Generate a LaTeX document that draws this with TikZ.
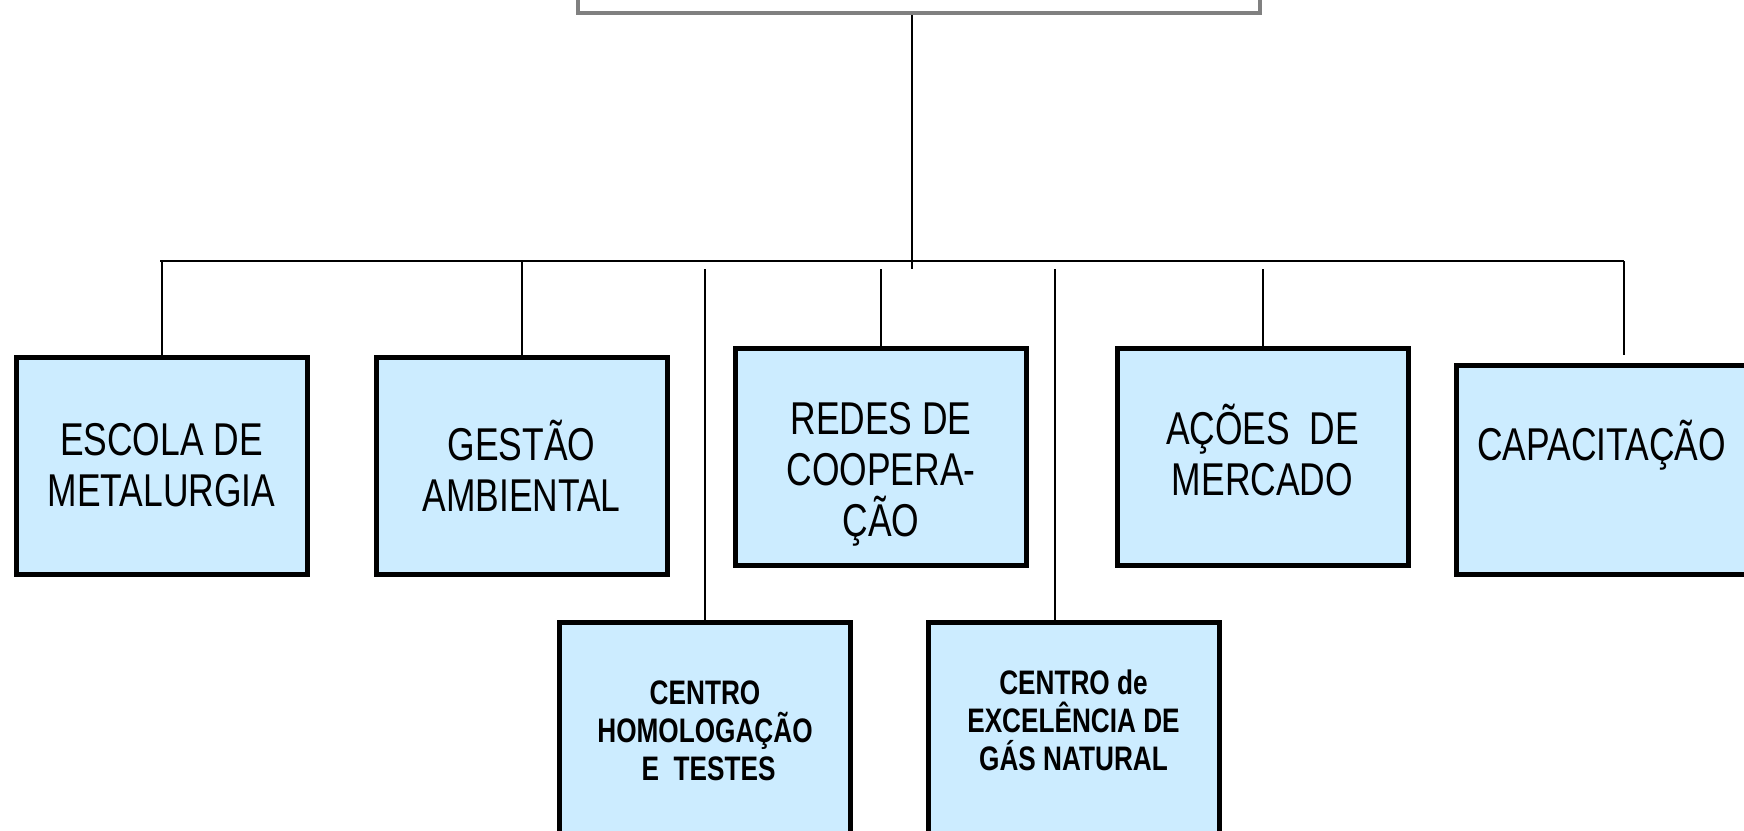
\documentclass[tikz,border=0pt]{standalone}
\usepackage{fontspec}
\setmainfont[FakeStretch=0.77]{Liberation Sans}
\definecolor{azulclaro}{HTML}{CCECFF}
\tikzset{
  caixa/.style={draw=black, line width=2.5pt, fill=azulclaro, inner sep=0pt,
    minimum width=145.5pt, minimum height=108.5pt, align=center,
    font=\fontsize{23}{25.5}\selectfont},
  caixanegrito/.style={caixa, font=\fontsize{17}{19}\selectfont\bfseries},
  liga/.style={line width=1pt}
}
\begin{document}
\begin{tikzpicture}[x=0.5pt,y=-0.5pt]
  \useasboundingbox (0,0) rectangle (1744,830);
  \clip (0,0) rectangle (1744,830);
  % caixa de cima (cortada)
  \node[draw=gray, line width=2pt, inner sep=0pt, minimum width=341pt, minimum height=60pt] (topo) at (919,-47) {};
  % primeira linha
  \node[caixa] (escola) at (161.5,465.5) {ESCOLA DE\\METALURGIA};
  \node[caixa] (gestao) at (521.5,465.5) {GESTÃO\\AMBIENTAL};
  \node[caixa] (redes) at (881,457) {\mbox{}\\[8pt]REDES DE\\COOPERA-\\ÇÃO};
  \node[caixa] (acoes) at (1262.5,457) {AÇÕES\ \ DE\\MERCADO\\[-18pt]\mbox{}};
  \node[caixa, minimum height=104.5pt] (capac) at (1601.5,469.5) {CAPACITAÇÃO\\[4pt]\mbox{}};
  % segunda linha
  \node[caixanegrito] (homolog) at (705,730.5) {CENTRO\\HOMOLOGAÇÃO\\\ E\ \ TESTES};
  \node[caixanegrito] (excel) at (1073.5,730.5) {CENTRO de\\EXCELÊNCIA DE\\GÁS NATURAL\\[-9pt]\mbox{}};
  % ligacoes
  \coordinate (tronco) at (912,269);
  \coordinate (barraE) at (160,261);
  \coordinate (barraD) at (1624,261);
  \coordinate (excelfio) at (1055,269);
  \draw[liga] (topo.south -| tronco) -- (tronco);
  \draw[liga] (barraE) -- (barraD);
  \draw[liga] (escola.north |- barraE) -- (escola.north);
  \draw[liga] (gestao.north |- barraE) -- (gestao.north);
  \draw[liga] (barraD) -- ([yshift=4pt]capac.north -| barraD);
  \draw[liga] (redes.north |- tronco) -- (redes.north);
  \draw[liga] (acoes.north |- tronco) -- (acoes.north);
  \draw[liga] (homolog.north |- tronco) -- (homolog.north);
  \draw[liga] (excelfio) -- (excelfio |- excel.north);
\end{tikzpicture}
\end{document}
